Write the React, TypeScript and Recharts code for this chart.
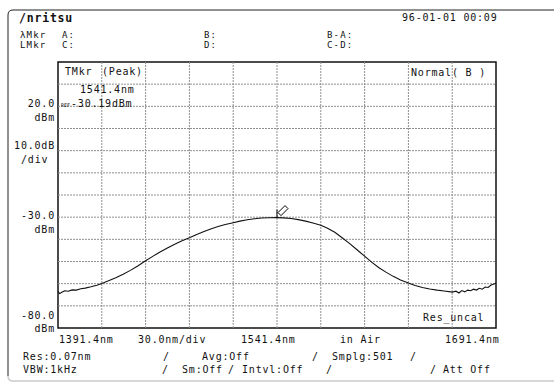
import React from "react";
import { LineChart, Line, XAxis, YAxis, ReferenceLine, ReferenceArea, ReferenceDot } from "recharts";

const wavelengths = [
  1391.4, 1392.6, 1394.0, 1396.0, 1398.5, 1401.0, 1404.0, 1407.0, 1410.0, 1414.0,
  1418.0, 1421.4, 1426.0, 1431.0, 1436.0, 1441.0, 1446.0, 1451.4, 1456.0, 1461.0,
  1466.0, 1471.0, 1476.0, 1481.4, 1486.0, 1491.0, 1496.0, 1501.0, 1506.0, 1511.4,
  1516.0, 1521.0, 1526.0, 1531.0, 1536.0, 1541.4, 1546.0, 1551.0, 1556.0, 1561.0,
  1566.0, 1571.4, 1576.0, 1581.0, 1586.0, 1591.0, 1596.0, 1601.4, 1606.0, 1611.0,
  1616.0, 1621.0, 1626.0, 1631.4, 1636.0, 1641.0, 1646.0, 1651.0, 1656.0, 1661.4,
  1664.0, 1666.0, 1668.0, 1670.0, 1672.0, 1674.0, 1676.0, 1678.0, 1680.0, 1682.0,
  1684.0, 1686.0, 1688.0, 1690.0, 1691.4,
];

const powerDbm = [
  -63.6, -64.5, -63.9, -63.2, -63.4, -62.8, -62.9, -62.3, -62.0, -61.4,
  -60.7, -59.9, -58.7, -57.3, -55.7, -54.0, -52.0, -49.7, -47.8, -45.8,
  -44.0, -42.3, -40.8, -39.3, -37.9, -36.6, -35.3, -34.2, -33.3, -32.5,
  -31.8, -31.2, -30.7, -30.4, -30.25, -30.19, -30.3, -30.6, -31.1, -31.8,
  -32.6, -33.6, -35.0, -36.8, -39.3, -41.8, -44.6, -47.6, -50.2, -52.7,
  -54.8, -56.7, -58.3, -59.7, -60.8, -61.7, -62.4, -62.9, -63.3, -63.8,
  -63.4, -64.2, -63.1, -63.7, -62.9, -63.2, -62.5, -62.9, -62.1, -62.5,
  -61.5, -61.7, -60.6, -60.2, -59.7,
];

// grid divisions: 30 nm/div, 10 dB/div
const xTicks = [1421.4, 1451.4, 1481.4, 1511.4, 1541.4, 1571.4, 1601.4, 1631.4, 1661.4];
const yTicks = [-70, -60, -50, -40, -30, -20, -10, 0, 10, 20, 30];

const peak = { wl: 1541.4, dbm: -30.19 };

const data = wavelengths.map((wl, i) => ({ wl, dbm: powerDbm[i] }));

const mono = "'DejaVu Sans Mono', monospace";
const gridColor = "#8f8f8f";

const MarkerFlag = (props: any) => {
  const { cx, cy } = props;
  if (cx == null || cy == null) return null;
  return (
    <g stroke="#000" strokeWidth={1} fill="#fff">
      <line x1={cx} y1={cy} x2={cx} y2={cy - 8} />
      <path d={`M ${cx + 1} ${cy - 5} L ${cx + 8} ${cy - 12} L ${cx + 11} ${cy - 9} L ${cx + 4} ${cy - 2} Z`} />
    </g>
  );
};

const T = ({ x, y, children, anchor = "start", size = 10, spacing = 0.8, weight = 400 }: any) => (
  <text
    x={x}
    y={y}
    textAnchor={anchor}
    fontFamily={mono}
    fontSize={size}
    fontWeight={weight}
    letterSpacing={spacing}
    fill="#111"
  >
    {children}
  </text>
);

export default function App() {
  return (
    <div style={{ position: "absolute", left: 0, top: 0, width: 554, height: 383, background: "#fff" }}>
      <LineChart width={554} height={383} data={data} margin={{ top: 62, right: 58, bottom: 55, left: 58 }}>
        <XAxis dataKey="wl" type="number" domain={[1391.4, 1691.4]} hide />
        <YAxis type="number" domain={[-80, 40]} hide />
        {xTicks.map((v) => (
          <ReferenceLine key={`x${v}`} x={v} stroke={gridColor} strokeDasharray="2 1" />
        ))}
        {yTicks.map((v) => (
          <ReferenceLine key={`y${v}`} y={v} stroke={gridColor} strokeDasharray="2 1" />
        ))}
        <ReferenceArea x1={1391.4} x2={1691.4} y1={-80} y2={40} fill="none" stroke="#111" strokeWidth={1.5} />
        <Line
          type="linear"
          dataKey="dbm"
          stroke="#111"
          strokeWidth={1.1}
          dot={false}
          isAnimationActive={false}
        />
        <ReferenceDot x={peak.wl} y={peak.dbm} shape={MarkerFlag} />
      </LineChart>

      <svg width={554} height={383} style={{ position: "absolute", left: 0, top: 0, pointerEvents: "none" }}>
        {/* outer frame */}
        <path d="M 8 376 L 8 15 Q 8 10 13 10 L 554 10" fill="none" stroke="#222" strokeWidth={1} />
        <path d="M 8 376 Q 8 381 13 381 L 554 381" fill="none" stroke="#ccc" strokeWidth={1.5} />

        <T x={19} y={22} size={11.5} weight={700}>/nritsu</T>
        <T x={402} y={21}>96-01-01 00:09</T>

        <T x={20} y={37.5} size={9} spacing={1.2}>λMkr</T>
        <T x={62} y={37.5} size={9} spacing={1.2}>A:</T>
        <T x={204} y={37.5} size={9} spacing={1.2}>B:</T>
        <T x={327} y={37.5} size={9} spacing={1.2}>B-A:</T>
        <T x={20} y={47.5} size={9} spacing={1.2}>LMkr</T>
        <T x={62} y={47.5} size={9} spacing={1.2}>C:</T>
        <T x={204} y={47.5} size={9} spacing={1.2}>D:</T>
        <T x={327} y={47.5} size={9} spacing={1.2}>C-D:</T>

        {/* in-plot annotations */}
        <T x={65} y={75}>TMkr</T>
        <T x={102} y={75}>(Peak)</T>
        <T x={80} y={92.5}>1541.4nm</T>
        <T x={61} y={106.5} size={5} spacing={0}>REF</T>
        <T x={71} y={106.5}>-30.19dBm</T>
        <T x={411} y={76}>Normal( B )</T>
        <T x={423} y={321}>Res_uncal</T>

        {/* level labels */}
        <T x={55} y={106.5} anchor="end">20.0</T>
        <T x={55} y={121} anchor="end">dBm</T>
        <T x={55} y={149} anchor="end">10.0dB</T>
        <T x={21} y={163}>/div</T>
        <T x={55} y={219} anchor="end">-30.0</T>
        <T x={55} y={233} anchor="end">dBm</T>
        <T x={55} y={319} anchor="end">-80.0</T>
        <T x={55} y={331.5} anchor="end">dBm</T>

        {/* wavelength labels */}
        <T x={59} y={342.5}>1391.4nm</T>
        <T x={138} y={342.5}>30.0nm/div</T>
        <T x={241} y={342.5}>1541.4nm</T>
        <T x={340} y={342.5}>in Air</T>
        <T x={445} y={342.5}>1691.4nm</T>

        {/* settings */}
        <T x={23} y={359.5}>Res:0.07nm</T>
        <T x={163} y={359.5}>/</T>
        <T x={202} y={359.5}>Avg:Off</T>
        <T x={312} y={359.5}>/</T>
        <T x={332} y={359.5}>Smplg:501</T>
        <T x={410} y={359.5}>/</T>
        <T x={23} y={373}>VBW:1kHz</T>
        <T x={162} y={373}>/</T>
        <T x={182} y={373}>Sm:Off</T>
        <T x={228} y={373}>/</T>
        <T x={242} y={373}>Intvl:Off</T>
        <T x={326} y={373}>/</T>
        <T x={430} y={373}>/</T>
        <T x={443} y={373}>Att Off</T>
      </svg>
    </div>
  );
}
